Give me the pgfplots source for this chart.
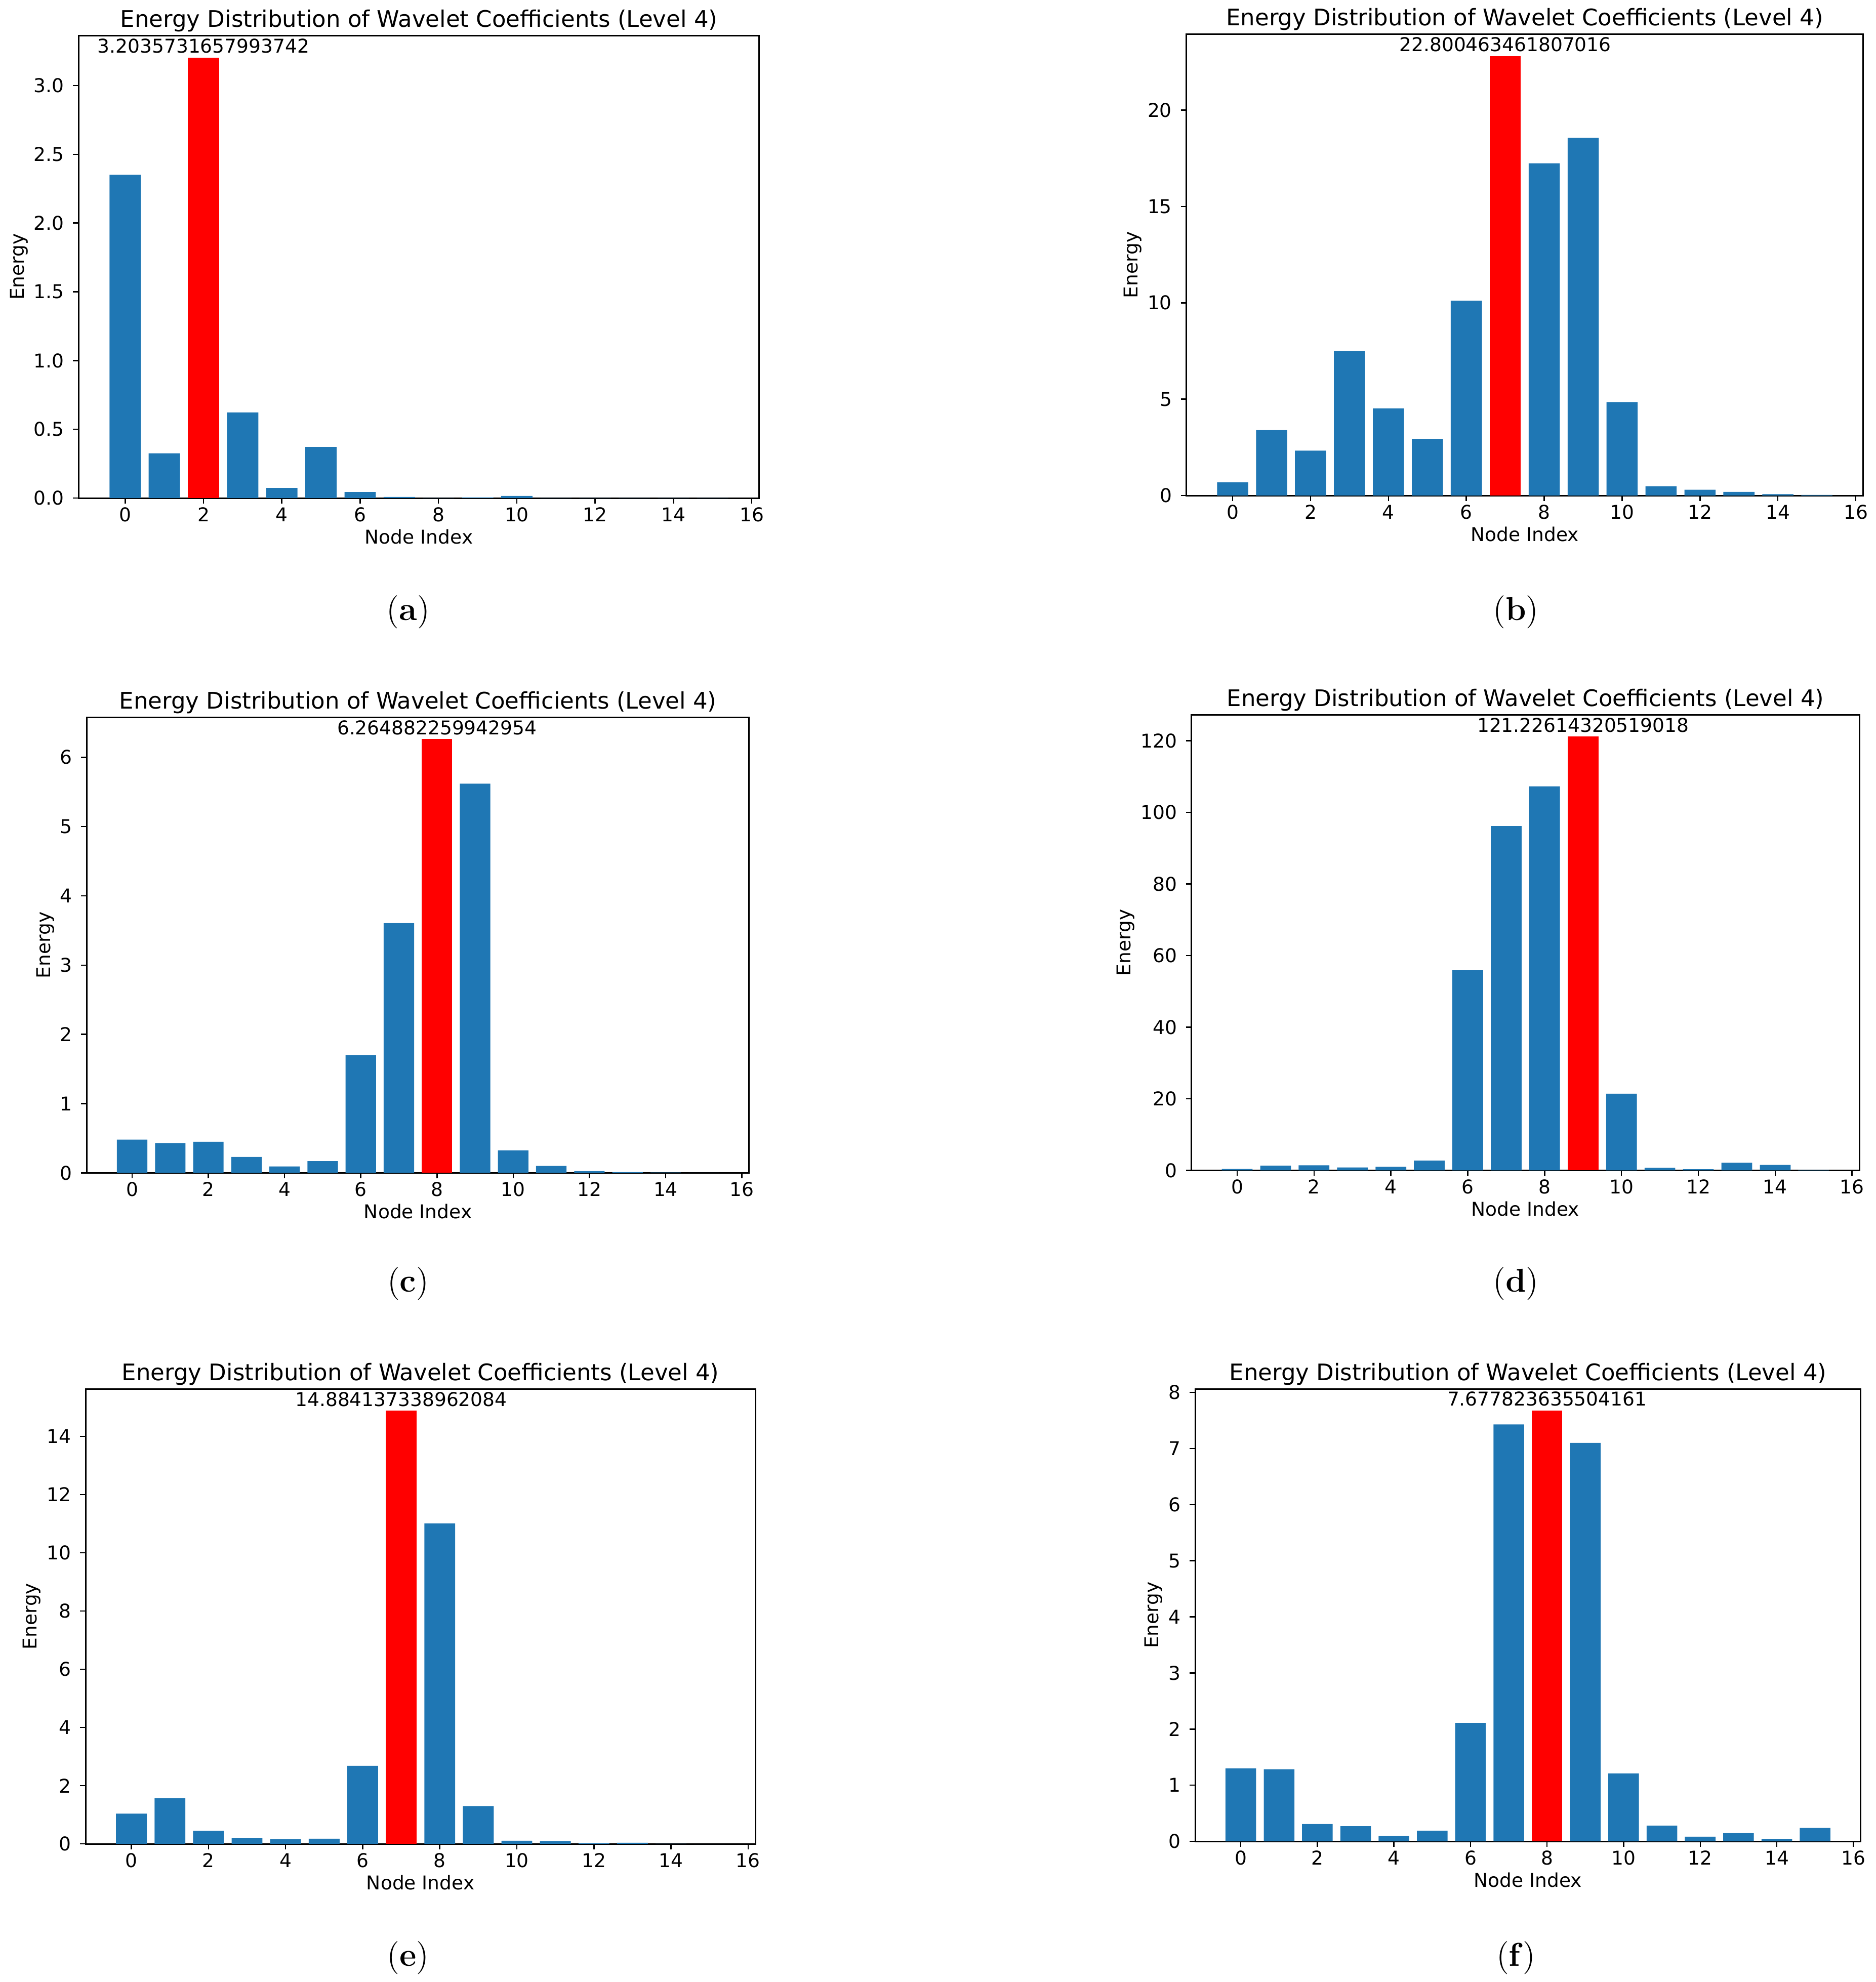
\documentclass[border=0pt]{standalone}
\usepackage{fontspec}
\setsansfont{DejaVu Sans}
\usepackage{pgfplots}
\pgfplotsset{compat=1.18}
\definecolor{mplblue}{HTML}{1F77B4}
\newcommand{\smallsf}{\sffamily\fontsize{7.5}{9}\selectfont}
\pgfplotsset{
  panel/.style={
    scale only axis, anchor=south west,
    xmin=-1.19, xmax=16.19, ymin=0,
    xtick={0,2,...,16},
    tick pos=left, tick align=outside, major tick length=2.2pt,
    title={Energy Distribution of Wavelet Coefficients (Level 4)},
    title style={font=\sffamily\fontsize{9}{10.8}\selectfont, yshift=-8pt},
    xlabel={Node Index}, ylabel={Energy},
    label style={font=\smallsf},
    xlabel style={yshift=4pt},
    ylabel style={yshift=-4.5pt},
    tick label style={font=\smallsf},
    xticklabel style={yshift=2pt},
    /pgf/number format/assume math mode=true,
    axis line style={line width=0.6pt},
    every tick/.style={black, line width=0.5pt},
    scaled y ticks=false,
  },
  blue bars/.style={ybar, bar width=0.8, bar shift=0pt, fill=mplblue, draw=none},
  red bar/.style={ybar, bar width=0.8, bar shift=0pt, fill=red, draw=none,
    nodes near coords, point meta=explicit symbolic,
    every node near coord/.append style={font=\smallsf, black, anchor=south, inner sep=1.5pt}},
}
\begin{document}
\begin{tikzpicture}
\path[use as bounding box] (0,0) rectangle (740pt,-782pt);

% (a)
\begin{axis}[panel, at={(31pt,-196.5pt)}, width=268.5pt, height=182.5pt,
  ymax=3.3638, ytick={0,0.5,...,3.0},
  yticklabel style={/pgf/number format/.cd, fixed, fixed zerofill, precision=1}]
\addplot[blue bars] coordinates {(0,2.351) (1,0.325) (3,0.623) (4,0.073) (5,0.371) (6,0.044) (7,0.008) (8,0.001) (9,0.004) (10,0.015) (11,0.001) (12,0.001) (13,0.001) (14,0.001) (15,0.001)};
\addplot[red bar] coordinates {(2,3.2035731657993742) [3.2035731657993742]};
\end{axis}

% (b)
\begin{axis}[panel, at={(468pt,-195.5pt)}, width=267pt, height=182pt,
  ymax=23.9405, ytick={0,5,10,15,20}]
\addplot[blue bars] coordinates {(0,0.685) (1,3.39) (2,2.33) (3,7.5) (4,4.52) (5,2.94) (6,10.11) (8,17.24) (9,18.56) (10,4.85) (11,0.48) (12,0.30) (13,0.185) (14,0.07) (15,0.03)};
\addplot[red bar] coordinates {(7,22.800463461807016) [22.800463461807016]};
\end{axis}

% (c)
\begin{axis}[panel, at={(34.25pt,-462.75pt)}, width=261.25pt, height=179.75pt,
  ymax=6.5781, ytick={0,1,...,6}]
\addplot[blue bars] coordinates {(0,0.48) (1,0.43) (2,0.45) (3,0.23) (4,0.093) (5,0.17) (6,1.70) (7,3.607) (9,5.62) (10,0.325) (11,0.10) (12,0.026) (13,0.01) (14,0.005) (15,0.001)};
\addplot[red bar] coordinates {(8,6.264882259942954) [6.264882259942954]};
\end{axis}

% (d)
\begin{axis}[panel, at={(470pt,-461.75pt)}, width=263.5pt, height=179.75pt,
  ymax=127.2875, ytick={0,20,...,120}]
\addplot[blue bars] coordinates {(0,0.4) (1,1.3) (2,1.4) (3,0.8) (4,1.0) (5,2.7) (6,55.9) (7,96.2) (8,107.3) (10,21.4) (11,0.7) (12,0.3) (13,2.1) (14,1.5) (15,0.1)};
\addplot[red bar] coordinates {(9,121.22614320519018) [121.22614320519018]};
\end{axis}

% (e)
\begin{axis}[panel, at={(33.75pt,-727.5pt)}, width=264.25pt, height=179.5pt,
  ymax=15.6283, ytick={0,2,...,14}]
\addplot[blue bars] coordinates {(0,1.04) (1,1.57) (2,0.45) (3,0.21) (4,0.16) (5,0.18) (6,2.68) (8,11.01) (9,1.30) (10,0.11) (11,0.10) (12,0.02) (13,0.04) (14,0.005) (15,0.002)};
\addplot[red bar] coordinates {(7,14.884137338962084) [14.884137338962084]};
\end{axis}

% (f)
\begin{axis}[panel, at={(471.5pt,-726.5pt)}, width=262.5pt, height=178.5pt,
  ymax=8.0617, ytick={0,1,...,8}]
\addplot[blue bars] coordinates {(0,1.30) (1,1.285) (2,0.31) (3,0.27) (4,0.095) (5,0.19) (6,2.11) (7,7.43) (9,7.10) (10,1.21) (11,0.28) (12,0.083) (13,0.146) (14,0.045) (15,0.24)};
\addplot[red bar] coordinates {(8,7.677823635504161) [7.677823635504161]};
\end{axis}

% captions
\begin{scope}[every node/.style={font=\fontsize{13}{15}\selectfont}]
\node at (161pt,-241.5pt) {(\textbf{a})};
\node at (598pt,-241.5pt) {(\textbf{b})};
\node at (161pt,-506.5pt) {(\textbf{c})};
\node at (598pt,-506.5pt) {(\textbf{d})};
\node at (161pt,-772.5pt) {(\textbf{e})};
\node at (598pt,-772.5pt) {(\textbf{f})};
\end{scope}
\end{tikzpicture}
\end{document}
